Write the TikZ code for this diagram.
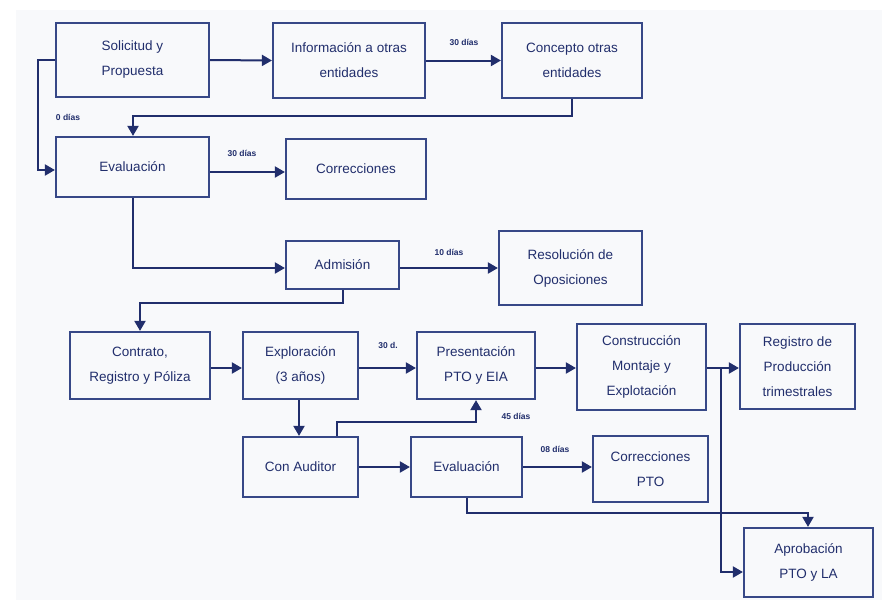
\documentclass[tikz,border=0pt]{standalone}
\usepackage{fontspec}
\setmainfont{Liberation Sans}
\usetikzlibrary{arrows.meta}
\definecolor{navy}{RGB}{33,46,108}
\definecolor{boxline}{RGB}{55,72,135}
\definecolor{panel}{RGB}{248,249,251}
\begin{document}
\begin{tikzpicture}[x=1pt,y=-1pt,
  box/.style={draw=boxline,line width=2.2pt,text=navy,align=center,inner sep=2pt,
    font=\fontsize{13.5}{25}\selectfont},
  conn/.style={draw=navy,line width=2pt,-{Triangle[length=10pt,width=11pt]}},
  plain/.style={draw=navy,line width=2pt},
  lbl/.style={text=navy,font=\fontsize{8.5}{10}\selectfont\bfseries,inner sep=0pt}]
\useasboundingbox (0,0) rectangle (882,600);
\fill[white] (0,0) rectangle (882,600);
\fill[panel] (16,10) rectangle (882,600);

% boxes
\node[box,minimum width=153pt,minimum height=74pt] (sol) at (132.5,60) {Solicitud y\\Propuesta};
\node[box,minimum width=152pt,minimum height=75pt] (info) at (349,60.5) {Información a otras\\entidades};
\node[box,minimum width=140pt,minimum height=75pt] (conc) at (572,60.5) {Concepto otras\\entidades};
\node[box,minimum width=153pt,minimum height=60pt] (evaA) at (132.5,167) {Evaluación};
\node[box,minimum width=140pt,minimum height=60pt] (corr) at (356,169) {Correcciones};
\node[box,minimum width=113pt,minimum height=48pt] (adm) at (342.5,265) {Admisión};
\node[box,minimum width=143pt,minimum height=74pt] (res) at (570.5,268) {Resolución de\\Oposiciones};
\node[box,minimum width=140pt,minimum height=67pt] (cont) at (140,365.5) {Contrato,\\Registro y Póliza};
\node[box,minimum width=115pt,minimum height=67pt] (expl) at (300.5,365.5) {Exploración\\(3 años)};
\node[box,minimum width=118pt,minimum height=67pt] (pres) at (476,365.5) {Presentación\\PTO y EIA};
\node[box,minimum width=129pt,minimum height=86pt] (cons) at (641.5,367) {Construcción\\Montaje y\\Explotación};
\node[box,minimum width=115pt,minimum height=85pt] (reg) at (797.5,366.5) {Registro de\\Producción\\trimestrales};
\node[box,minimum width=115pt,minimum height=60pt] (aud) at (300.5,467) {Con Auditor};
\node[box,minimum width=111pt,minimum height=60pt] (evaB) at (466.5,467) {Evaluación};
\node[box,minimum width=115pt,minimum height=66pt] (cpto) at (650.5,469) {Correcciones\\PTO};
\node[box,minimum width=129pt,minimum height=69pt] (apr) at (808.5,562.5) {Aprobación\\PTO y LA};

% helper coordinates
\coordinate (c1) at (572,116);
\coordinate (c2) at (133,116);
\coordinate (c3) at (38,60);
\coordinate (c4) at (38,170);
\coordinate (c5) at (133,268);
\coordinate (c6) at (343,303);
\coordinate (c7) at (140,303);
\coordinate (c8) at (721,368);
\coordinate (c9) at (721,572);
\coordinate (c10) at (337,422);
\coordinate (c11) at (476,422);
\coordinate (c12) at (467,513);
\coordinate (c13) at (808,513);

% connectors
\draw[conn] (sol.east) -- (info.west);
\draw[conn] (info.east) -- (conc.west);
\draw[conn] (conc.south) -- (c1) -- (c2) -- (c2 |- evaA.north);
\draw[conn] (sol.west) -- (c3) -- (c4) -- (c4 -| evaA.west);
\draw[conn] (evaA.east |- 0,172) -- (corr.west |- 0,172);
\draw[conn] (c2 |- evaA.south) -- (c5) -- (c5 -| adm.west);
\draw[conn] (adm.east |- c5) -- (c5 -| res.west);
\draw[conn] (c6 |- adm.south) -- (c6) -- (c7) -- (c7 |- cont.north);
\draw[conn] (cont.east |- c8) -- (c8 -| expl.west);
\draw[conn] (expl.east |- c8) -- (c8 -| pres.west);
\draw[conn] (pres.east |- c8) -- (c8 -| cons.west);
\draw[conn] (cons.east |- c8) -- (c8 -| reg.west);
\draw[conn] (c8) -- (c9) -- (c9 -| apr.west);
\draw[conn] (299,0 |- expl.south) -- (299,0 |- aud.north);
\draw[conn] (c10 |- aud.north) -- (c10) -- (c11) -- (c11 |- pres.south);
\draw[conn] (aud.east) -- (evaB.west);
\draw[conn] (evaB.east) -- (evaB.east -| cpto.west);
\draw[conn] (c12 |- evaB.south) -- (c12) -- (c13) -- (c13 |- apr.north);

% labels
\node[lbl] (l1) at (464,42) {30 días};
\node[lbl] (l2) at (68,117) {0 días};
\node[lbl] (l3) at (242,153) {30 días};
\node[lbl] (l4) at (449,252) {10 días};
\node[lbl] (l5) at (388,345) {30 d.};
\node[lbl] (l6) at (516,416) {45 días};
\node[lbl] (l7) at (555,449) {08 días};
\end{tikzpicture}
\end{document}
